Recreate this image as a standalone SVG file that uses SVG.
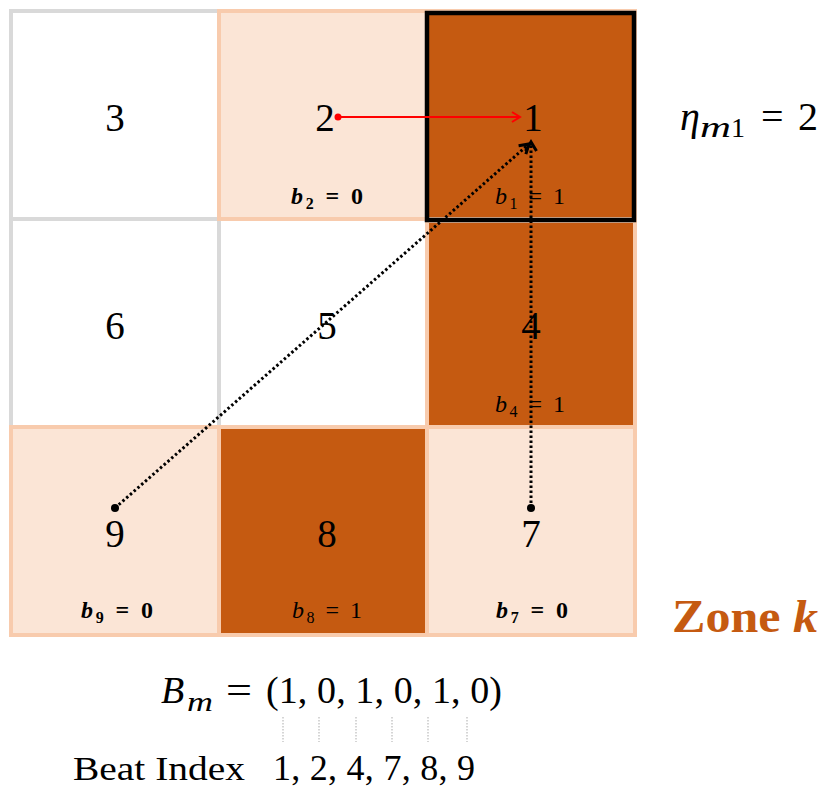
<svg xmlns="http://www.w3.org/2000/svg" width="831" height="800" viewBox="0 0 831 800">
<style>
.white{fill:#ffffff;stroke:#d9d9d9;stroke-width:4}
.peach{fill:#fbe5d6;stroke:#f8cbad;stroke-width:4}
.dark{fill:#c55a11;stroke:#f8cbad;stroke-width:4}
.num{font-family:"Liberation Serif","DejaVu Serif",serif;font-size:39px;fill:#000;text-anchor:middle}
.lb{font-family:"Liberation Serif","DejaVu Serif",serif;font-size:24px;fill:#000;text-anchor:middle}
.lbb{font-family:"Liberation Serif","DejaVu Serif",serif;font-size:24px;fill:#000;text-anchor:middle;font-weight:bold}
.math{font-family:"Liberation Serif","DejaVu Serif",serif;fill:#000}
.dot{stroke:#000;stroke-width:3;stroke-dasharray:2.5 2.5;fill:none}
.guide{stroke:#c8c8c8;stroke-width:1.5;stroke-dasharray:1.5 1.5}
</style>
<defs>
<marker id="arR" markerWidth="14" markerHeight="14" refX="11" refY="7" orient="auto" markerUnits="userSpaceOnUse">
<path d="M3,2 L11,7 L3,12" fill="none" stroke="#ff0000" stroke-width="2"/>
</marker>
<marker id="arK" markerWidth="16" markerHeight="16" refX="12" refY="8" orient="auto" markerUnits="userSpaceOnUse">
<path d="M3,2.5 L12,8 L3,13.5" fill="none" stroke="#000" stroke-width="3"/>
</marker>
</defs>

<g id="cell3"><rect class="white" x="11" y="11" width="208" height="208"/><text class="num" x="115" y="131">3</text></g>
<g id="cell6"><rect class="white" x="11" y="219" width="208" height="208"/><text class="num" x="115" y="339">6</text></g>
<g id="cell5"><rect class="white" x="219" y="219" width="208" height="208"/><text class="num" x="327" y="339">5</text></g>
<g id="cell2"><rect class="peach" x="219" y="11" width="208" height="208"/><text class="num" x="325" y="131">2</text>
<text class="lbb" x="327" y="204" textLength="72" lengthAdjust="spacing"><tspan font-style="italic">b</tspan><tspan dy="5" font-size="16">2</tspan><tspan dy="-5"> = 0</tspan></text></g>
<g id="cell9"><rect class="peach" x="11" y="427" width="208" height="208"/><text class="num" x="115" y="547">9</text>
<text class="lbb" x="117" y="618" textLength="72" lengthAdjust="spacing"><tspan font-style="italic">b</tspan><tspan dy="5" font-size="16">9</tspan><tspan dy="-5"> = 0</tspan></text></g>
<g id="cell7"><rect class="peach" x="427" y="427" width="208" height="208"/><text class="num" x="531" y="547">7</text>
<text class="lbb" x="532" y="618" textLength="72" lengthAdjust="spacing"><tspan font-style="italic">b</tspan><tspan dy="5" font-size="16">7</tspan><tspan dy="-5"> = 0</tspan></text></g>
<g id="cell1"><rect class="dark" x="427" y="11" width="208" height="208"/><text class="num" x="533" y="131">1</text>
<text class="lb" x="530" y="204" textLength="70" lengthAdjust="spacing"><tspan font-style="italic">b</tspan><tspan dy="5" font-size="16">1</tspan><tspan dy="-5"> = 1</tspan></text></g>
<g id="cell4"><rect class="dark" x="427" y="221" width="208" height="206"/><text class="num" x="531" y="339">4</text>
<text class="lb" x="530" y="412" textLength="70" lengthAdjust="spacing"><tspan font-style="italic">b</tspan><tspan dy="5" font-size="16">4</tspan><tspan dy="-5"> = 1</tspan></text></g>
<g id="cell8"><rect class="dark" x="219" y="427" width="208" height="208"/><text class="num" x="327" y="547">8</text>
<text class="lb" x="327" y="618" textLength="70" lengthAdjust="spacing"><tspan font-style="italic">b</tspan><tspan dy="5" font-size="16">8</tspan><tspan dy="-5"> = 1</tspan></text></g>
<g id="zone-highlight"><rect x="427" y="13" width="207" height="207" fill="none" stroke="#000" stroke-width="4.5"/></g>

<g id="connectors">
<line x1="338" y1="117" x2="520" y2="117" stroke="#ff0000" stroke-width="2" marker-end="url(#arR)"/>
<circle cx="338" cy="117" r="3.5" fill="#ff0000"/>
<line class="dot" x1="115" y1="508" x2="529" y2="144" marker-end="url(#arK)"/>
<circle cx="115" cy="508" r="4" fill="#000"/>
<line class="dot" x1="531" y1="508" x2="531" y2="142" marker-end="url(#arK)"/>
<circle cx="531" cy="508" r="4" fill="#000"/>
<line class="guide" x1="283" y1="717" x2="283" y2="742"/>
<line class="guide" x1="319" y1="717" x2="319" y2="742"/>
<line class="guide" x1="356" y1="717" x2="356" y2="742"/>
<line class="guide" x1="392" y1="717" x2="392" y2="742"/>
<line class="guide" x1="428" y1="717" x2="428" y2="742"/>
<line class="guide" x1="467" y1="717" x2="467" y2="742"/>
</g>

<g id="eta">
<text class="math" x="680" y="130" font-size="40" font-style="italic">η</text>
<text class="math" x="700" y="137" font-size="29" font-style="italic" textLength="31" lengthAdjust="spacingAndGlyphs">m</text>
<text class="math" x="731" y="137" font-size="28">1</text>
<text class="math" x="761" y="130" font-size="40" textLength="57" lengthAdjust="spacing">= 2</text>
</g>

<g id="zone">
<text x="672" y="632" font-family="'Liberation Serif','DejaVu Serif',serif" font-size="46" font-weight="bold" fill="#c55a11" textLength="146" lengthAdjust="spacingAndGlyphs">Zone <tspan font-style="italic">k</tspan></text>
</g>

<g id="bm">
<text class="math" x="161" y="703" font-size="38" font-style="italic">B</text>
<text class="math" x="187" y="711" font-size="28" font-style="italic" textLength="26" lengthAdjust="spacingAndGlyphs">m</text>
<text class="math" x="226" y="703" font-size="38" textLength="26" lengthAdjust="spacingAndGlyphs">=</text>
<text class="math" x="266" y="703" font-size="38" textLength="236" lengthAdjust="spacing">(1, 0, 1, 0, 1, 0)</text>
</g>

<g id="beat">
<text class="math" x="73" y="780" font-size="34" textLength="172" lengthAdjust="spacingAndGlyphs">Beat Index</text>
<text class="math" x="273" y="780" font-size="36" textLength="202" lengthAdjust="spacing">1, 2, 4, 7, 8, 9</text>
</g>
</svg>
